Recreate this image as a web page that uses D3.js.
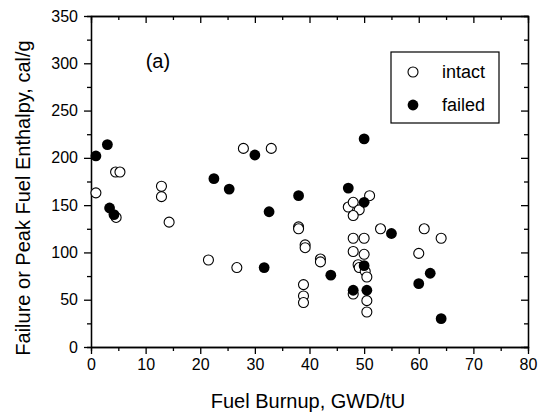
<!DOCTYPE html>
<html lang="en">
<head>
    <meta charset="UTF-8">
    <title>Failure enthalpy vs burnup</title>
</head>
<script src="https://d3js.org/d3.v7.min.js"></script>
<style>
    body { margin: 0; background: #fff; }
    text { font-family: "Liberation Sans", Arial, sans-serif; fill: #000; }
    .axis path, .axis line { stroke: #000; stroke-width: 1.3px; }
</style>
<body>
<svg id="chart" width="541" height="416"></svg>
<script>
    // burnup (GWD/tU) and enthalpy (cal/g)
    var intactBurnup = [0.9, 4.5, 5.3, 4.6, 12.9, 12.9, 14.3, 21.5, 26.7, 27.9, 33.0, 38.0, 38.0, 39.2, 39.2,
        38.9, 38.9, 38.9, 42.0, 42.0, 47.1, 48.0, 49.1, 48.0, 51.0, 53.0, 61.0, 64.1, 48.0, 50.0,
        48.0, 50.0, 60.0, 48.9, 49.1, 50.2, 50.5, 48.0, 50.5, 50.5];
    var intactEnthalpy = [163, 185, 185, 137, 170, 159, 132, 92, 84, 210, 210, 127, 125, 108, 105,
        66, 54, 47, 93, 90, 148, 153, 145, 139, 160, 125, 125, 115, 115, 115,
        101, 98, 99, 87, 84, 80, 74, 56, 49, 37];
    var failedBurnup = [0.9, 3.0, 3.4, 4.2, 22.5, 25.3, 30.0, 32.6, 31.7, 38.0, 43.9, 47.1, 50.0, 50.0,
        55.0, 50.0, 48.0, 50.5, 60.0, 62.1, 64.1];
    var failedEnthalpy = [202, 214, 147, 140, 178, 167, 203, 143, 84, 160, 76, 168, 220, 153,
        120, 86, 60, 60, 67, 78, 30];
    var xTicks = [0, 10, 20, 30, 40, 50, 60, 70, 80];
    var yTicks = [0, 50, 100, 150, 200, 250, 300, 350];

    var svg = d3.select("#chart");
    var margin = {top: 16, right: 13, bottom: 69, left: 91};
    var width = 541 - margin.left - margin.right,
        height = 416 - margin.top - margin.bottom;

    var x = d3.scaleLinear().domain([0, 80]).range([0, width]);
    var y = d3.scaleLinear().domain([0, 350]).range([height, 0]);

    var g = svg.append("g")
        .attr("transform", "translate(" + margin.left + "," + margin.top + ")");

    var xMinor = d3.range(5, 80, 10);
    var yMinor = d3.range(25, 350, 50);

    function drawAxis(axis, cls, tr) {
        return g.append("g").attr("class", "axis " + cls).attr("transform", tr).call(axis);
    }

    // minor ticks first, then the labelled ones
    drawAxis(d3.axisBottom(x).tickValues(xMinor).tickSize(4).tickFormat(""), "minor", "translate(0," + height + ")");
    drawAxis(d3.axisTop(x).tickValues(xMinor).tickSize(-4).tickFormat(""), "minor", "translate(0,0)");
    drawAxis(d3.axisLeft(y).tickValues(yMinor).tickSize(4).tickFormat(""), "minor", "translate(0,0)");
    drawAxis(d3.axisRight(y).tickValues(yMinor).tickSize(-4).tickFormat(""), "minor", "translate(" + width + ",0)");

    var xAxis = drawAxis(d3.axisBottom(x).tickValues(xTicks).tickSize(7).tickSizeOuter(0).tickPadding(5),
        "x", "translate(0," + height + ")");
    drawAxis(d3.axisTop(x).tickValues(xTicks).tickSize(-7).tickSizeOuter(0).tickFormat(""), "top", "translate(0,0)");
    var yAxis = drawAxis(d3.axisLeft(y).tickValues(yTicks).tickSize(7).tickSizeOuter(0).tickPadding(6),
        "y", "translate(0,0)");
    drawAxis(d3.axisRight(y).tickValues(yTicks).tickSize(-7).tickSizeOuter(0).tickFormat(""), "right", "translate(" + width + ",0)");

    svg.selectAll(".axis text")
        .style("font-family", "'Liberation Sans', Arial, sans-serif")
        .style("font-size", "16px")
        .attr("fill", "#000");

    // points: intact first (white fill) then failed on top
    var intact = intactBurnup.map(function (b, i) { return {x: b, y: intactEnthalpy[i]}; });
    var failed = failedBurnup.map(function (b, i) { return {x: b, y: failedEnthalpy[i]}; });

    g.append("g").selectAll("circle")
        .data(intact)
        .enter().append("circle")
        .attr("cx", function (d) { return x(d.x); })
        .attr("cy", function (d) { return y(d.y); })
        .attr("r", 5)
        .attr("fill", "#fff")
        .attr("stroke", "#000")
        .attr("stroke-width", 1.1);

    g.append("g").selectAll("circle")
        .data(failed)
        .enter().append("circle")
        .attr("cx", function (d) { return x(d.x); })
        .attr("cy", function (d) { return y(d.y); })
        .attr("r", 5.4)
        .attr("fill", "#000");

    g.append("text")
        .attr("x", x(10))
        .attr("y", y(295))
        .style("font-size", "20px")
        .text("(a)");

    // legend
    var legend = svg.append("g").attr("transform", "translate(391,52)");
    legend.append("rect")
        .attr("width", 108).attr("height", 71)
        .attr("fill", "#fff").attr("stroke", "#000").attr("stroke-width", 1.2);
    legend.append("circle").attr("cx", 22).attr("cy", 20).attr("r", 5)
        .attr("fill", "#fff").attr("stroke", "#000").attr("stroke-width", 1.1);
    legend.append("circle").attr("cx", 22).attr("cy", 53).attr("r", 5.4).attr("fill", "#000");
    legend.append("text").attr("x", 51).attr("y", 26).style("font-size", "18px").text("intact");
    legend.append("text").attr("x", 51).attr("y", 59).style("font-size", "18px").text("failed");

    // axis titles
    svg.append("text")
        .attr("x", 308).attr("y", 408)
        .attr("text-anchor", "middle")
        .style("font-size", "20px")
        .text("Fuel Burnup, GWD/tU");

    svg.append("text")
        .attr("transform", "translate(30,198) rotate(-90)")
        .attr("text-anchor", "middle")
        .style("font-size", "20px")
        .text("Failure or Peak Fuel Enthalpy, cal/g");
</script>
</body>
</html>
